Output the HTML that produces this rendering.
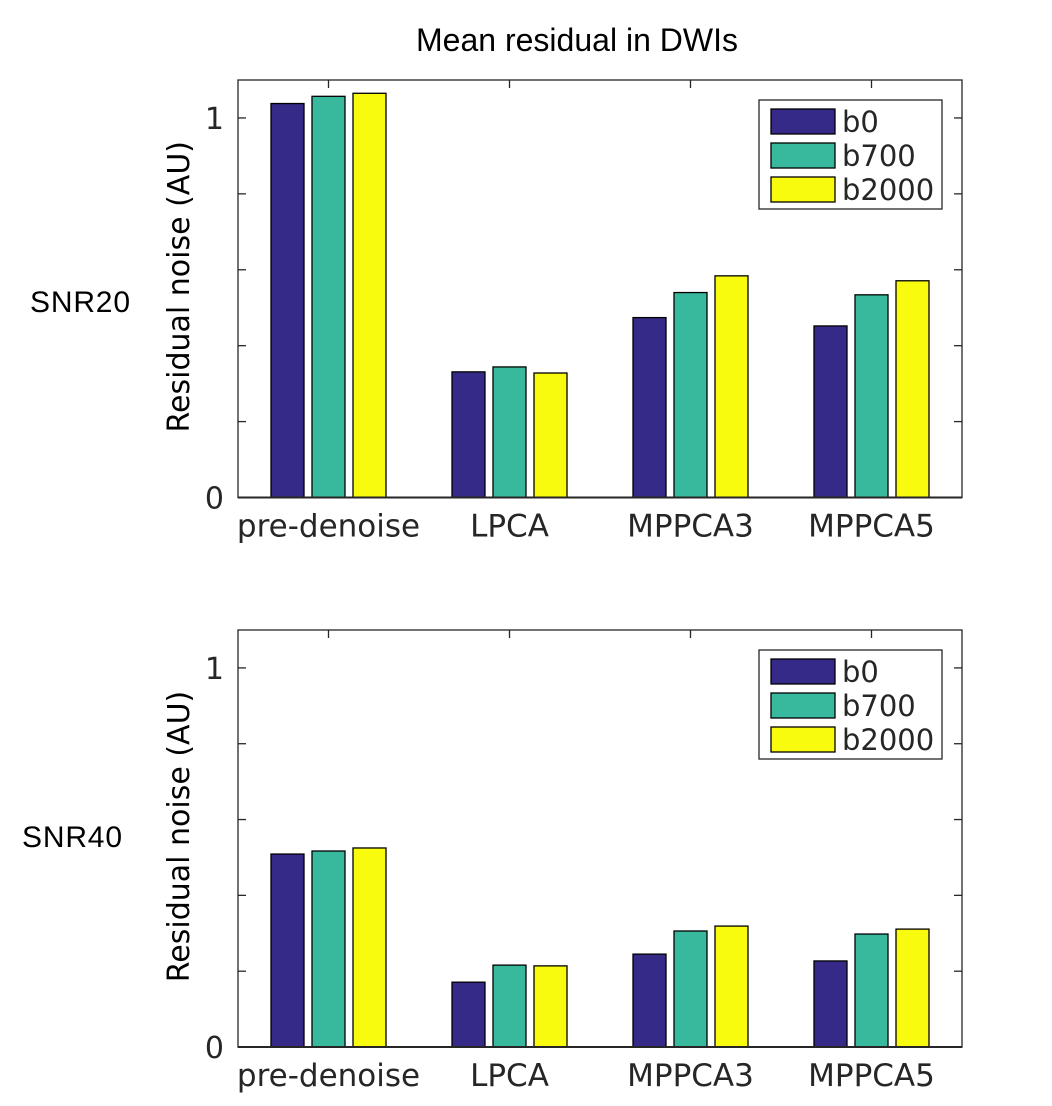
<!DOCTYPE html>
<html><head><meta charset="utf-8"><style>
body{margin:0;background:#fff;}
svg{display:block;font-family:"Liberation Sans",sans-serif;}
.dv{font-family:"DejaVu Sans",sans-serif;}
</style></head><body>
<svg id="c" width="1052" height="1106" xmlns="http://www.w3.org/2000/svg">
<text x="577" y="51" font-size="32" text-anchor="middle" fill="#000" textLength="322">Mean residual in DWIs</text>
<text x="30" y="312" font-size="30" fill="#000" textLength="100">SNR20</text>
<text x="22" y="847" font-size="30" fill="#000" textLength="100">SNR40</text>
</svg>
<script>
const categories = ["pre-denoise","LPCA","MPPCA3","MPPCA5"];
const seriesNames = ["b0","b700","b2000"];
const colors = ["#352a87","#38b99e","#f9fb0e"];
const snr20_b0 = [1.038,0.331,0.474,0.452];
const snr20_b700 = [1.057,0.344,0.540,0.534];
const snr20_b2000 = [1.065,0.328,0.584,0.571];
const snr40_b0 = [0.509,0.171,0.245,0.227];
const snr40_b700 = [0.517,0.216,0.306,0.298];
const snr40_b2000 = [0.525,0.214,0.319,0.311];
const yTicks = [0,0.2,0.4,0.6,0.8,1];
const yTickLabels = {"0":"0","1":"1"};
const yMax = 1.1;

const svg = document.getElementById('c');
const NS = "http://www.w3.org/2000/svg";
function mk(tag, attrs, parent){const e=document.createElementNS(NS,tag);for(const k in attrs)e.setAttribute(k,attrs[k]);(parent||svg).appendChild(e);return e;}

function drawPanel(name, top, bottom, series){
  const left=238, right=962;
  const g = mk('g',{});
  
  
  const yS = v => bottom - v/yMax*(bottom-top);
  const xS = i => left + (i+0.5)*(right-left)/categories.length;
  const bw = 33, step = 41;
  series.forEach((vals,s)=>{
    vals.forEach((v,i)=>{
      const cx = xS(i) + (s-1)*step;
      const r = mk('rect',{x:cx-bw/2,y:yS(v),width:bw,height:yS(0)-yS(v),fill:colors[s],stroke:"#000","stroke-width":1.3},g);
      
      
    });
  });
  const box = mk('rect',{x:left,y:top,width:right-left,height:bottom-top,fill:"none",stroke:"#262626","stroke-width":1.3},g);
  
  
  mk('line',{x1:left,y1:bottom,x2:right,y2:bottom,stroke:"#262626","stroke-width":2},g);
  yTicks.forEach(t=>{
    const y=yS(t);
    mk('line',{x1:left,y1:y,x2:left+8,y2:y,stroke:"#262626","stroke-width":1.3},g);
    mk('line',{x1:right,y1:y,x2:right-8,y2:y,stroke:"#262626","stroke-width":1.3},g);
    if(yTickLabels[String(t)]!==undefined){
      const tx = mk('text',{x:left-14,y:y+11,"font-size":30,"text-anchor":"end",fill:"#262626",class:"dv"},g);
      tx.textContent = yTickLabels[String(t)];
      
      
    }
  });
  categories.forEach((c,i)=>{
    const x=xS(i);
    mk('line',{x1:x,y1:top,x2:x,y2:top+8,stroke:"#262626","stroke-width":1.3},g);
    const tx = mk('text',{x:x,y:bottom+39,"font-size":31,"text-anchor":"middle",fill:"#262626",class:"dv"},g);
    tx.textContent = c;
    
    
  });
  const yl = mk('text',{x:0,y:0,"font-size":30,"text-anchor":"middle",fill:"#000",class:"dv",transform:`translate(189,${(top+bottom)/2-2}) rotate(-90)`},g);
  yl.textContent = "Residual noise (AU)";
  
  
  const lg = mk('g',{},g);
  
  
  const ly = top+20;
  mk('rect',{x:759,y:ly,width:183,height:109,fill:"#fff",stroke:"#262626","stroke-width":1.3},lg);
  seriesNames.forEach((n,s)=>{
    const e = mk('g',{},lg);
    
    
    const ry = ly+9+s*34;
    mk('rect',{x:771,y:ry,width:64,height:25,fill:colors[s],stroke:"#000","stroke-width":1.3},e);
    const t = mk('text',{x:842,y:ry+23,"font-size":29,fill:"#262626",class:"dv"},e);
    t.textContent = n;
  });
}
drawPanel('panel-snr20', 80, 497.5, [snr20_b0,snr20_b700,snr20_b2000]);
drawPanel('panel-snr40', 630, 1047, [snr40_b0,snr40_b700,snr40_b2000]);
</script>
</body></html>
